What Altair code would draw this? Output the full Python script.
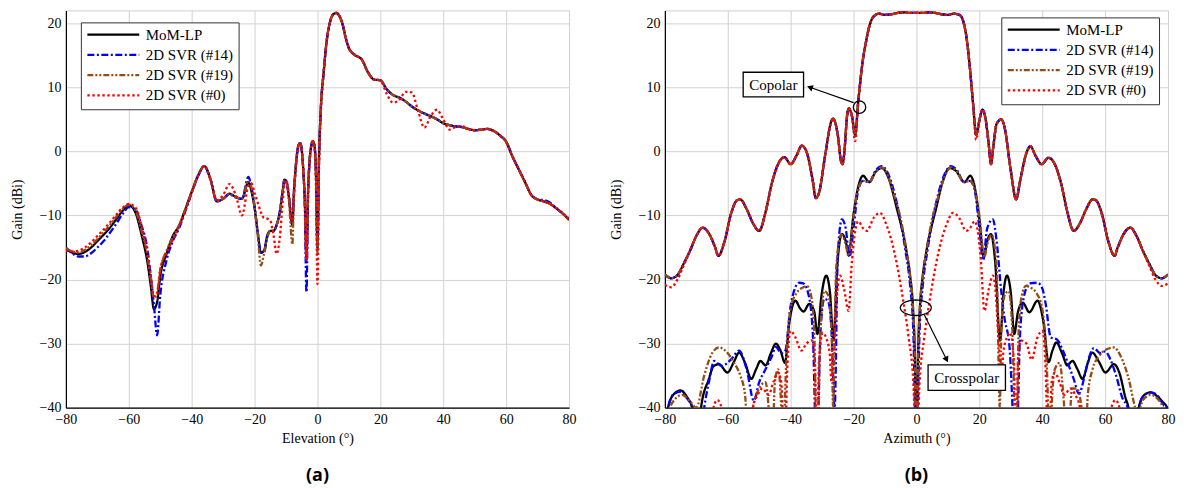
import math
import altair as alt
import pandas as pd

# ---------------- series / styles ----------------
SERIES = ["MoM-LP", "2D SVR (#14)", "2D SVR (#19)", "2D SVR (#0)"]
COLORS = ["#000000", "#0000ff", "#964b14", "#ff0000"]
DASHES = [[1, 0], [7, 2.5, 2, 2.5], [6, 2, 2, 2, 2, 2], [2.4, 2.6]]

# ---------------- (a) elevation cut ----------------
EL_X = [-80, -78, -76, -74, -72, -70, -68, -66, -64, -62,
        -60, -58, -56, -54, -53, -52, -51, -50, -48, -46,
        -44, -42, -40, -38, -36, -34, -32, -30, -28, -26,
        -24, -22, -21, -20, -19, -18, -17, -16, -15, -14,
        -13, -12, -11, -10.5, -10, -9, -8.5, -8, -7.5, -7,
        -6, -5.5, -5, -4.5, -4, -3.5, -3, -2.5, -2, -1.5,
        -1, -0.5, 0, 0.5, 1, 2, 3, 4, 5, 6,
        7, 8, 9, 10, 12, 14, 16, 18, 20, 22,
        24, 26, 28, 30, 32, 34, 36, 38, 40, 42,
        44, 46, 48, 50, 52, 54, 56, 58, 60, 62,
        64, 66, 68, 70, 72, 74, 76, 78, 80]

EL_MOM = [-15.2, -15.8, -16.0, -15.7, -15.0, -14.0, -13.0, -11.9, -10.6, -9.3,
          -8.4, -9.4, -12.9, -17.5, -21.0, -24.6, -23.5, -19.5, -16.0, -13.2,
          -11.6, -9.0, -6.3, -3.8, -2.3, -4.4, -7.8, -7.4, -6.6, -7.1,
          -7.4, -4.8, -6.2, -8.8, -12.6, -15.8, -15.5, -13.2, -12.4, -12.4,
          -11.5, -9.5, -6.0, -4.4, -4.6, -7.5, -10.0, -11.5, -6.5, -3.0,
          1.0, 1.3, 0.2, -3.0, -8.0, -17.0, -6.5, -1.5, 0.8, 1.6,
          1.0, -3.0, -15.0, -1.0, 6.0, 12.5, 17.5, 20.2, 21.4, 21.6,
          21.1, 19.8, 17.7, 16.1, 15.0, 14.4, 12.4, 11.2, 11.1, 9.7,
          8.8, 8.4, 7.8, 7.0, 6.4, 5.9, 5.5, 5.0, 4.4, 4.1,
          3.9, 3.8, 3.5, 3.3, 3.4, 3.5, 3.2, 2.5, 1.5, -0.8,
          -2.8, -4.8, -6.8, -7.5, -7.8, -8.2, -8.9, -9.7, -10.7]

EL_SVR14 = [-15.0, -15.9, -16.4, -16.4, -15.9, -15.0, -14.0, -12.7, -11.3, -9.8,
            -8.7, -9.0, -11.5, -15.5, -19.5, -24.0, -28.7, -22.5, -17.0, -14.0,
            -12.0, -9.3, -6.5, -3.9, -2.3, -4.4, -7.8, -7.4, -6.7, -7.2,
            -7.4, -4.0, -5.5, -8.6, -12.6, -15.8, -15.8, -13.4, -12.4, -12.4,
            -11.5, -9.5, -6.0, -4.4, -4.6, -7.5, -10.0, -11.5, -6.5, -3.0,
            1.0, 1.3, 0.2, -3.0, -9.0, -22.0, -7.0, -1.5, 0.8, 1.6,
            1.0, -3.0, -15.0, -1.0, 6.0, 12.5, 17.5, 20.2, 21.4, 21.6,
            21.1, 19.8, 17.7, 16.1, 15.0, 14.4, 12.4, 11.2, 11.1, 9.7,
            8.8, 8.4, 7.8, 7.0, 6.4, 5.9, 5.5, 5.0, 4.4, 4.1,
            3.9, 3.8, 3.5, 3.3, 3.4, 3.5, 3.2, 2.5, 1.5, -0.8,
            -2.8, -4.8, -6.8, -7.5, -7.6, -8.0, -8.9, -9.7, -10.5]

EL_SVR19 = [-15.1, -15.6, -15.8, -15.4, -14.7, -13.7, -12.6, -11.5, -10.2, -9.0,
            -8.3, -9.1, -12.3, -16.5, -20.0, -22.8, -22.0, -18.5, -15.5, -13.4,
            -11.5, -9.0, -6.3, -3.8, -2.3, -4.4, -7.8, -7.4, -6.6, -7.1,
            -7.4, -4.6, -5.6, -8.8, -13.0, -17.8, -16.0, -13.5, -12.4, -12.4,
            -11.5, -9.5, -6.0, -4.5, -4.7, -8.0, -12.0, -14.5, -7.5, -3.0,
            1.0, 1.3, 0.2, -3.0, -8.0, -17.0, -6.5, -1.5, 0.8, 1.6,
            1.0, -3.0, -16.0, -1.0, 6.0, 12.5, 17.5, 20.2, 21.4, 21.6,
            21.1, 19.8, 17.7, 16.1, 15.0, 14.4, 12.4, 11.2, 11.1, 9.7,
            8.8, 8.4, 7.8, 7.0, 6.4, 5.9, 5.5, 5.0, 4.4, 4.1,
            3.9, 3.8, 3.5, 3.3, 3.4, 3.5, 3.2, 2.5, 1.5, -0.8,
            -2.8, -4.8, -6.8, -7.5, -7.8, -8.2, -8.9, -9.7, -10.7]

EL_SVR0 = [-15.5, -15.6, -15.5, -15.0, -14.2, -13.2, -12.2, -11.1, -9.9, -8.8,
           -8.2, -8.7, -11.5, -16.0, -19.5, -22.6, -22.4, -18.5, -15.8, -13.8,
           -11.8, -9.2, -6.4, -3.8, -2.3, -4.4, -7.6, -6.8, -5.1, -6.8,
           -10.0, -5.4, -5.0, -6.5, -8.0, -9.5, -10.4, -10.5, -10.8, -13.0,
           -16.0, -13.5, -7.5, -5.0, -4.6, -7.0, -9.5, -11.0, -6.5, -3.0,
           1.0, 1.3, 0.2, -3.0, -8.0, -17.0, -6.5, -1.5, 0.8, 1.6,
           1.0, -5.0, -20.7, -2.0, 5.5, 12.5, 17.5, 20.2, 21.4, 21.6,
           21.1, 19.8, 17.7, 16.1, 15.0, 14.4, 12.4, 11.2, 11.1, 9.0,
           7.6, 8.0, 9.3, 9.2, 6.3, 3.7, 5.5, 6.5, 5.0, 3.4,
           3.8, 3.9, 3.5, 3.3, 3.4, 3.5, 3.2, 2.5, 1.5, -0.8,
           -2.8, -4.8, -6.8, -7.5, -7.8, -8.2, -8.9, -9.7, -10.7]

# ---------------- (b) azimuth cut : copolar ----------------
AZ_COP_X = [-80, -78, -76, -74, -72, -70, -68, -66, -64, -63,
            -61, -59, -57, -56, -54, -52, -50, -48, -46, -44,
            -42, -40, -38, -36.5, -35, -33, -32, -31, -29, -27,
            -26.5, -25, -24, -23.5, -23, -22, -21.5, -20.5, -19.5, -18.5,
            -17, -16, -15, -14, -13, -12, -10, -8, -6, -4,
            -2, 0, 2, 4, 6, 8, 10, 12, 13, 14,
            15, 16, 17, 18, 19, 20, 21, 22, 23, 23.7,
            24.5, 25.5, 27, 28, 30, 31.7, 33, 35, 36.2, 38,
            39.8, 42, 44, 46, 48, 50, 52, 54, 56, 57,
            59, 61, 63, 64, 66, 68, 70, 72, 74, 76,
            78, 80]

AZ_COP_MOM = [-19.2, -19.8, -19.3, -17.5, -15.5, -13.2, -11.9, -12.8, -15.0, -16.3,
              -14.0, -9.8, -7.6, -7.5, -9.0, -11.2, -12.4, -9.5, -5.0, -2.0,
              -0.9, -2.0, -0.5, 0.9, 0.0, -4.5, -7.3, -6.5, -0.5, 4.8,
              5.1, 2.5, -1.5, -2.0, -0.5, 5.8, 6.7, 5.5, 2.6, 7.8,
              14.4, 17.2, 19.5, 20.8, 21.3, 21.5, 21.3, 21.4, 21.6, 21.7,
              21.6, 21.6, 21.6, 21.7, 21.6, 21.4, 21.3, 21.5, 21.4, 21.2,
              20.1, 17.5, 13.0, 7.5, 2.6, 4.8, 6.5, 5.0, 1.0, -2.0,
              1.0, 4.3, 5.0, 3.8, -3.0, -7.5, -4.5, -0.2, 0.8, -0.8,
              -2.0, -1.0, -2.0, -5.0, -9.5, -12.4, -11.2, -9.0, -7.5, -7.6,
              -9.8, -14.0, -16.3, -15.0, -12.8, -11.9, -13.2, -15.5, -17.5, -19.3,
              -19.8, -19.2]
AZ_COP_SVR14 = list(AZ_COP_MOM)   # coincides with the MoM-LP copolar cut
AZ_COP_SVR19 = list(AZ_COP_MOM)   # coincides with the MoM-LP copolar cut
AZ_COP_SVR0 = [-20.8, -21.2, -20.0, -17.8, -15.5, -13.2, -11.9, -12.8, -15.0, -16.3,
               -14.0, -9.8, -7.6, -7.5, -9.0, -11.2, -12.4, -9.5, -5.0, -2.0,
               -0.9, -2.0, -0.5, 0.9, 0.0, -4.5, -7.3, -6.5, -0.5, 4.8,
               5.1, 2.5, -1.5, -2.0, -0.5, 5.8, 6.7, 5.5, 1.6, 7.8,
               14.4, 17.2, 19.5, 20.8, 21.3, 21.5, 21.3, 21.4, 21.6, 21.7,
               21.6, 21.6, 21.6, 21.7, 21.6, 21.4, 21.3, 21.5, 21.4, 21.2,
               20.1, 17.5, 13.0, 7.5, 1.8, 4.8, 6.5, 5.0, 1.0, -2.0,
               1.0, 4.3, 5.0, 3.8, -3.0, -7.5, -4.5, -0.2, 0.8, -0.8,
               -2.0, -1.0, -2.0, -5.0, -9.5, -12.4, -11.2, -9.0, -7.5, -7.6,
               -9.8, -14.0, -16.3, -15.0, -12.8, -11.9, -13.2, -15.5, -17.8, -20.0,
               -21.0, -20.6]

# ---------------- (b) azimuth cut : crosspolar ----------------
XP_MOM_X = [-80, -79, -77, -75, -73, -71, -69.6, -68.5, -66, -64.5,
            -62.8, -60.1, -58, -56.4, -54.5, -52.5, -51, -49.6, -48, -46.3,
            -44.7, -43.3, -41.8, -40.5, -38.5, -37, -35.9, -34.1, -32.5, -31.5,
            -30.2, -28.7, -27.5, -26.4, -25.2, -23.7, -22.5, -21.6, -20, -18.5,
            -17, -15, -13, -11, -9, -6.3, -3.2, -2, -1.1, -0.5,
            0,
            0.5, 1.1, 2, 3.2, 6.3, 8.5, 10.5, 12.5, 15.3, 17.1,
            18.5, 20, 21.4, 22.5, 23.7, 25, 26.6, 27.7, 28.8, 30,
            31.1, 32.3, 33.8, 35.9, 38.5, 40.5, 42, 43.3, 44.5, 46.3,
            48, 49.6, 51.2, 52.8, 54.5, 55.9, 58, 60.1, 62.8, 64.5,
            66.5, 67.4, 69, 70.7, 72.5, 74.4, 76.5, 78.5, 79.7, 80]
XP_MOM = [-44, -40, -37.8, -37.3, -38.3, -40.5, -46, -40, -35.5, -33.5,
          -33.2, -34.5, -32.8, -31.4, -33, -35.5, -34, -32.7, -33.4, -31.5,
          -30.0, -31, -33, -27, -23.3, -24.5, -25.0, -23.8, -25, -28.5,
          -22.5, -19.4, -22, -29.5, -18, -12.9, -14, -16.0, -9.8, -5.5,
          -3.8, -4.8, -3.2, -2.6, -4.0, -8.8, -15.5, -19.5, -24.4, -32,
          -48,
          -32, -24.4, -19.5, -15.5, -8.8, -4.5, -2.6, -3.0, -4.8, -3.8,
          -5.5, -10.5, -16.5, -14, -12.9, -17, -29.5, -22, -19.4, -22,
          -28.5, -25, -23.6, -25.1, -23.3, -27, -32.9, -31, -29.8, -31.5,
          -33.4, -32.7, -34, -35.5, -33, -31.4, -32.8, -34.5, -33.2, -34.5,
          -38.5, -40, -48, -40, -38, -37.6, -38.2, -39.2, -40, -41]

XP_SVR14_X = [-80, -79, -77, -75, -73, -71, -69.5, -67.5, -66, -64.3,
              -62, -59, -56.4, -54, -51.7, -50, -48, -46, -44.7, -43,
              -41.7, -40.1, -38.5, -37.4, -36, -34.5, -33, -31.7, -30.5, -29.3,
              -28, -27, -26, -25, -23.7, -22.5, -21.3, -20, -18.5, -17,
              -15, -13, -11, -9, -7, -5, -3.5, -2, -1, 0,
              1, 2, 3.5, 5, 7, 9, 11, 13, 15, 17,
              18.5, 20, 21.2, 22.5, 24.3, 25.5, 27, 28, 29.5, 31.7,
              33, 34.5, 36, 38.5, 40.1, 41.1, 42.7, 44.8, 46.5, 48.5,
              50, 51.7, 53.5, 55, 56.4, 58.5, 60, 61.7, 63.5, 65.5,
              67.2, 69, 70.7, 72.5, 74.4, 76.5, 78.5, 79.6, 80]
XP_SVR14 = [-44, -40, -37.8, -37.5, -38.5, -40.5, -48, -40, -36, -32.7,
            -33.5, -32.5, -31.1, -34, -38.9, -36, -34, -32, -30.5, -31.5,
            -31.1, -24.4, -21.2, -20.5, -20.6, -22, -28, -48, -28, -23,
            -23.5, -28, -40, -16, -10.6, -12, -16.5, -12, -6, -4.6,
            -4.8, -3, -2.3, -3.5, -6.5, -11, -15.5, -21, -28, -48,
            -28, -21, -15.5, -11, -6.5, -3.5, -2.3, -3, -4.8, -4.6,
            -6, -12, -17, -12, -10.6, -14, -22, -26, -30, -48,
            -28, -22, -20.6, -20.5, -21.5, -23.8, -29, -29.4, -31, -33.5,
            -35.5, -37.8, -35, -32, -30.7, -31.5, -31.2, -32.5, -35, -38.5,
            -40, -48, -40, -38, -37.6, -38, -39.5, -40, -42]

XP_SVR19_X = [-80, -78.5, -76.5, -74.5, -72, -70, -67.5, -65, -62.8, -60,
              -58, -56, -54.5, -53.3, -52, -50, -48, -47, -46, -45,
              -44, -43, -42.5, -41.5, -40, -38, -36, -34.8, -33.5, -32.5,
              -31.7, -30.5, -29.3, -28, -27, -26.5, -25.5, -23.9, -22.5, -21.6,
              -20, -18.5, -17, -15, -13, -11, -9, -7, -5, -3.2,
              -2, -1.1, -0.5, 0,
              0.5, 1.1, 2, 3.2, 5, 7, 9, 11, 13, 15,
              17, 18.5, 20, 21.6, 22.5, 23.9, 25.5, 26.5, 27, 28,
              29.3, 30.5, 31.7, 32.5, 33.5, 34.8, 36, 38, 40, 41.5,
              42.5, 43, 44, 45.5, 47, 48, 49.5, 51, 52.5, 53.5,
              54.5, 56, 58, 60, 62.8, 65, 67.5, 69.6, 70.5, 72,
              74.5, 76.5, 78.5, 80]
XP_SVR19 = [-42, -40, -38.5, -38, -39, -40, -35, -31.5, -30.6, -31.5,
            -33, -35, -38, -48, -40, -37, -36, -40, -48, -36,
            -34, -40, -48, -34, -24.5, -22, -21.2, -21.0, -22.5, -28,
            -48, -28, -21.8, -22.5, -28, -40, -18, -13.0, -14.5, -16.3,
            -10, -5.8, -4.6, -4.8, -3.2, -2.5, -3.9, -7, -10.5, -15.5,
            -19.5, -24.4, -32, -48,
            -32, -24.4, -19.5, -15.5, -10.5, -7, -3.9, -2.5, -3.2, -4.8,
            -4.6, -5.8, -10, -16.5, -14.5, -13.0, -18, -40, -28, -22.5,
            -21.8, -28, -48, -28, -22.5, -21.0, -21.2, -22, -24.5, -34,
            -48, -40, -34, -33, -40, -48, -37, -37, -40, -48,
            -38, -34, -32, -31, -30.6, -32, -35.5, -40, -41, -38.8,
            -38, -38.5, -40, -42]

XP_SVR0_X = [-80, -66, -65, -63.3, -61.5, -60.5, -53, -52, -50.5, -49,
             -47, -45.5, -44, -43, -42, -41, -40.1, -38.5, -36.6, -35,
             -33.2, -32.3, -31.7, -31, -29.8, -28.8, -27.6, -27, -26.2, -25,
             -24.3, -23, -21.6, -20.5, -19.5, -18.5, -17, -15.8, -13.5, -11.6,
             -9.5, -6.9, -4.2, -2.5, -1, 0,
             1, 2.5, 4.2, 6.9, 9.5, 11.6, 13.5, 15.8, 17, 18.5,
             19.5, 20.5, 21.6, 23, 24.3, 25, 26.2, 27, 27.6, 28.8,
             29.8, 31, 31.7, 32.3, 33.2, 35, 36.6, 38.5, 40.1, 41,
             42, 43, 44, 45.5, 47, 49, 50.5, 52, 53, 60.5,
             61.5, 63.3, 65, 66, 80]
XP_SVR0 = [-48, -48, -41, -38.8, -41, -48, -48, -40, -38, -37,
           -38, -36, -34.5, -36, -48, -33, -28, -29, -31.1, -30,
           -29.5, -33, -48, -33, -28.3, -29, -31.5, -36, -30, -21,
           -19.4, -21.5, -24.9, -17, -12.5, -10.9, -12, -12.4, -10.3, -9.6,
           -11.5, -16, -23.3, -29, -36, -48,
           -36, -29, -23.3, -16, -11.5, -9.6, -10.3, -12.4, -12, -10.9,
           -12.5, -17, -24.9, -21.5, -19.4, -21, -30, -36, -31.5, -29,
           -28.3, -33, -48, -33, -29.5, -30, -32.5, -29, -28, -33,
           -48, -36, -34.5, -36, -38, -37, -38, -40, -48, -48,
           -41, -38.8, -41, -48, -48]

# ---------------- annotations of (b) ----------------
BOX_TEXT = ["Copolar", "Crosspolar"]
BOX_X1 = [-55.1, 3.7]
BOX_X2 = [-35.9, 28.3]
BOX_Y1 = [12.35, -33.3]
BOX_Y2 = [8.5, -37.3]
TEXT_X = [-45.5, 16.0]
TEXT_Y = [10.4, -35.3]
RING_X = [-18.1]
RING_Y = [6.9]
ELLIPSE_X = [-0.2]
ELLIPSE_Y = [-24.4]
ARROW_X1 = [-20.0, 2.5]
ARROW_Y1 = [7.6, -25.5]
ARROW_X2 = [-33.9, 9.6]
ARROW_Y2 = [10.0, -32.5]
ARROW_ROT = [289.7, 153.6]

X_TICKS = [-80, -60, -40, -20, 0, 20, 40, 60, 80]
Y_TICKS = [-40, -30, -20, -10, 0, 10, 20]

FONT = "Liberation Serif"
PLOT_W = 504
PLOT_H = 398

# ---------------- tables ----------------
el_rows = []
for name, ys in zip(SERIES, [EL_MOM, EL_SVR14, EL_SVR19, EL_SVR0]):
    assert len(ys) == len(EL_X), name
    for x, y in zip(EL_X, ys):
        el_rows.append({"angle": x, "gain": y, "series": name, "part": "co"})
el_df = pd.DataFrame(el_rows)

az_rows = []
for name, cop, xx, xp in zip(
        SERIES,
        [AZ_COP_MOM, AZ_COP_SVR14, AZ_COP_SVR19, AZ_COP_SVR0],
        [XP_MOM_X, XP_SVR14_X, XP_SVR19_X, XP_SVR0_X],
        [XP_MOM, XP_SVR14, XP_SVR19, XP_SVR0]):
    assert len(cop) == len(AZ_COP_X), name
    assert len(xx) == len(xp), name
    for x, y in zip(AZ_COP_X, cop):
        az_rows.append({"angle": x, "gain": y, "series": name, "part": "co"})
    for x, y in zip(xx, xp):
        az_rows.append({"angle": x, "gain": y, "series": name, "part": "cross"})
az_df = pd.DataFrame(az_rows)

box_df = pd.DataFrame({"angle": BOX_X1, "angle2": BOX_X2, "gain": BOX_Y1, "gain2": BOX_Y2})
text_df = pd.DataFrame({"angle": TEXT_X, "gain": TEXT_Y, "label": BOX_TEXT})
ring_df = pd.DataFrame({"angle": RING_X, "gain": RING_Y})
ell_df = pd.DataFrame({"angle": ELLIPSE_X, "gain": ELLIPSE_Y})
arrow_df = pd.DataFrame({"angle": ARROW_X1, "gain": ARROW_Y1,
                         "angle2": ARROW_X2, "gain2": ARROW_Y2})
head_df = pd.DataFrame({"angle": ARROW_X2, "gain": ARROW_Y2, "rot": ARROW_ROT})

# ellipse marker outline (unit box, -1..1)
pts = []
for k in range(37):
    t = 2 * math.pi * k / 36
    pts.append(f"{math.cos(t):.4f},{0.5 * math.sin(t):.4f}")
ELLIPSE_PATH = "M" + "L".join(pts) + "Z"


def xenc(title):
    return alt.X("angle:Q",
                 scale=alt.Scale(domain=[-80, 80], nice=False, zero=False),
                 axis=alt.Axis(title=title, values=X_TICKS, labelFlush=False,
                               labelPadding=5, titlePadding=5))


def yenc():
    return alt.Y("gain:Q",
                 scale=alt.Scale(domain=[-40, 22], nice=False, zero=False),
                 axis=alt.Axis(title="Gain (dBi)", values=Y_TICKS, labelFlush=False,
                               labelPadding=5, titlePadding=15))


def legend(lx, ly):
    return alt.Legend(orient="none", legendX=lx, legendY=ly,
                      symbolType="stroke", symbolSize=2704, symbolStrokeWidth=2.2,
                      clipHeight=14.5, rowPadding=4.3, padding=5,
                      fillColor="white", strokeColor="#333333",
                      labelFont=FONT, labelFontSize=15, labelColor="black",
                      labelOffset=5, labelLimit=300)


def line_layer(df, xtitle, lx, ly):
    return alt.Chart(df).mark_line(strokeWidth=2.3, clip=True, interpolate="monotone").encode(
        x=xenc(xtitle),
        y=yenc(),
        color=alt.Color("series:N", title=None,
                        scale=alt.Scale(domain=SERIES, range=COLORS),
                        legend=legend(lx, ly)),
        strokeDash=alt.StrokeDash("series:N", title=None,
                                  scale=alt.Scale(domain=SERIES, range=DASHES),
                                  legend=legend(lx, ly)),
        detail="part:N",
    )


def panel_title(text):
    return alt.TitleParams(text, orient="bottom", anchor="middle", font="Open Sans",
                           fontSize=18, fontWeight="bold", color="black", offset=21)


left = alt.layer(line_layer(el_df, "Elevation (°)", 15, 12)).properties(
    width=PLOT_W, height=PLOT_H, title=panel_title("(a)"))

xa = "Azimuth (°)"
boxes = alt.Chart(box_df).mark_rect(fill="white", stroke="black", strokeWidth=1.3).encode(
    x=xenc(xa), x2="angle2:Q", y=yenc(), y2="gain2:Q")
texts = alt.Chart(text_df).mark_text(font=FONT, fontSize=15, color="black",
                                     align="center", baseline="middle").encode(
    x=xenc(xa), y=yenc(), text="label:N")
ring = alt.Chart(ring_df).mark_point(shape="circle", size=154, filled=False,
                                     stroke="black", strokeWidth=1.3, opacity=1).encode(
    x=xenc(xa), y=yenc())
ell = alt.Chart(ell_df).mark_point(shape=ELLIPSE_PATH, size=961, filled=False,
                                   stroke="black", strokeWidth=1.3, opacity=1).encode(
    x=xenc(xa), y=yenc())
arrows = alt.Chart(arrow_df).mark_rule(color="black", strokeWidth=1.2).encode(
    x=xenc(xa), x2="angle2:Q", y=yenc(), y2="gain2:Q")
heads = alt.Chart(head_df).mark_point(shape="triangle-up", size=45, filled=True,
                                      color="black", opacity=1).encode(
    x=xenc(xa), y=yenc(), angle=alt.Angle("rot:Q", scale=None))

right = alt.layer(line_layer(az_df, xa, 337, 7), ring, ell, arrows, heads, boxes, texts).properties(
    width=PLOT_W, height=PLOT_H, title=panel_title("(b)"))

chart = alt.hconcat(left, right, spacing=31).resolve_scale(
    color="independent", strokeDash="independent"
).resolve_legend(
    color="independent", strokeDash="independent"
).configure(
    padding={"left": 1, "top": 1, "right": 0, "bottom": 0}
).configure_view(
    stroke="#cfcfcf", strokeWidth=1
).configure_axis(
    gridColor="#d2d2d2", gridWidth=1, domainColor="#000000", domainWidth=1.2,
    ticks=False, labelFont=FONT, labelFontSize=14, labelColor="black",
    titleFont=FONT, titleFontSize=14, titleFontWeight="normal", titleColor="black"
)

chart.save("out.html", embed_options={"renderer": "svg", "actions": False})
